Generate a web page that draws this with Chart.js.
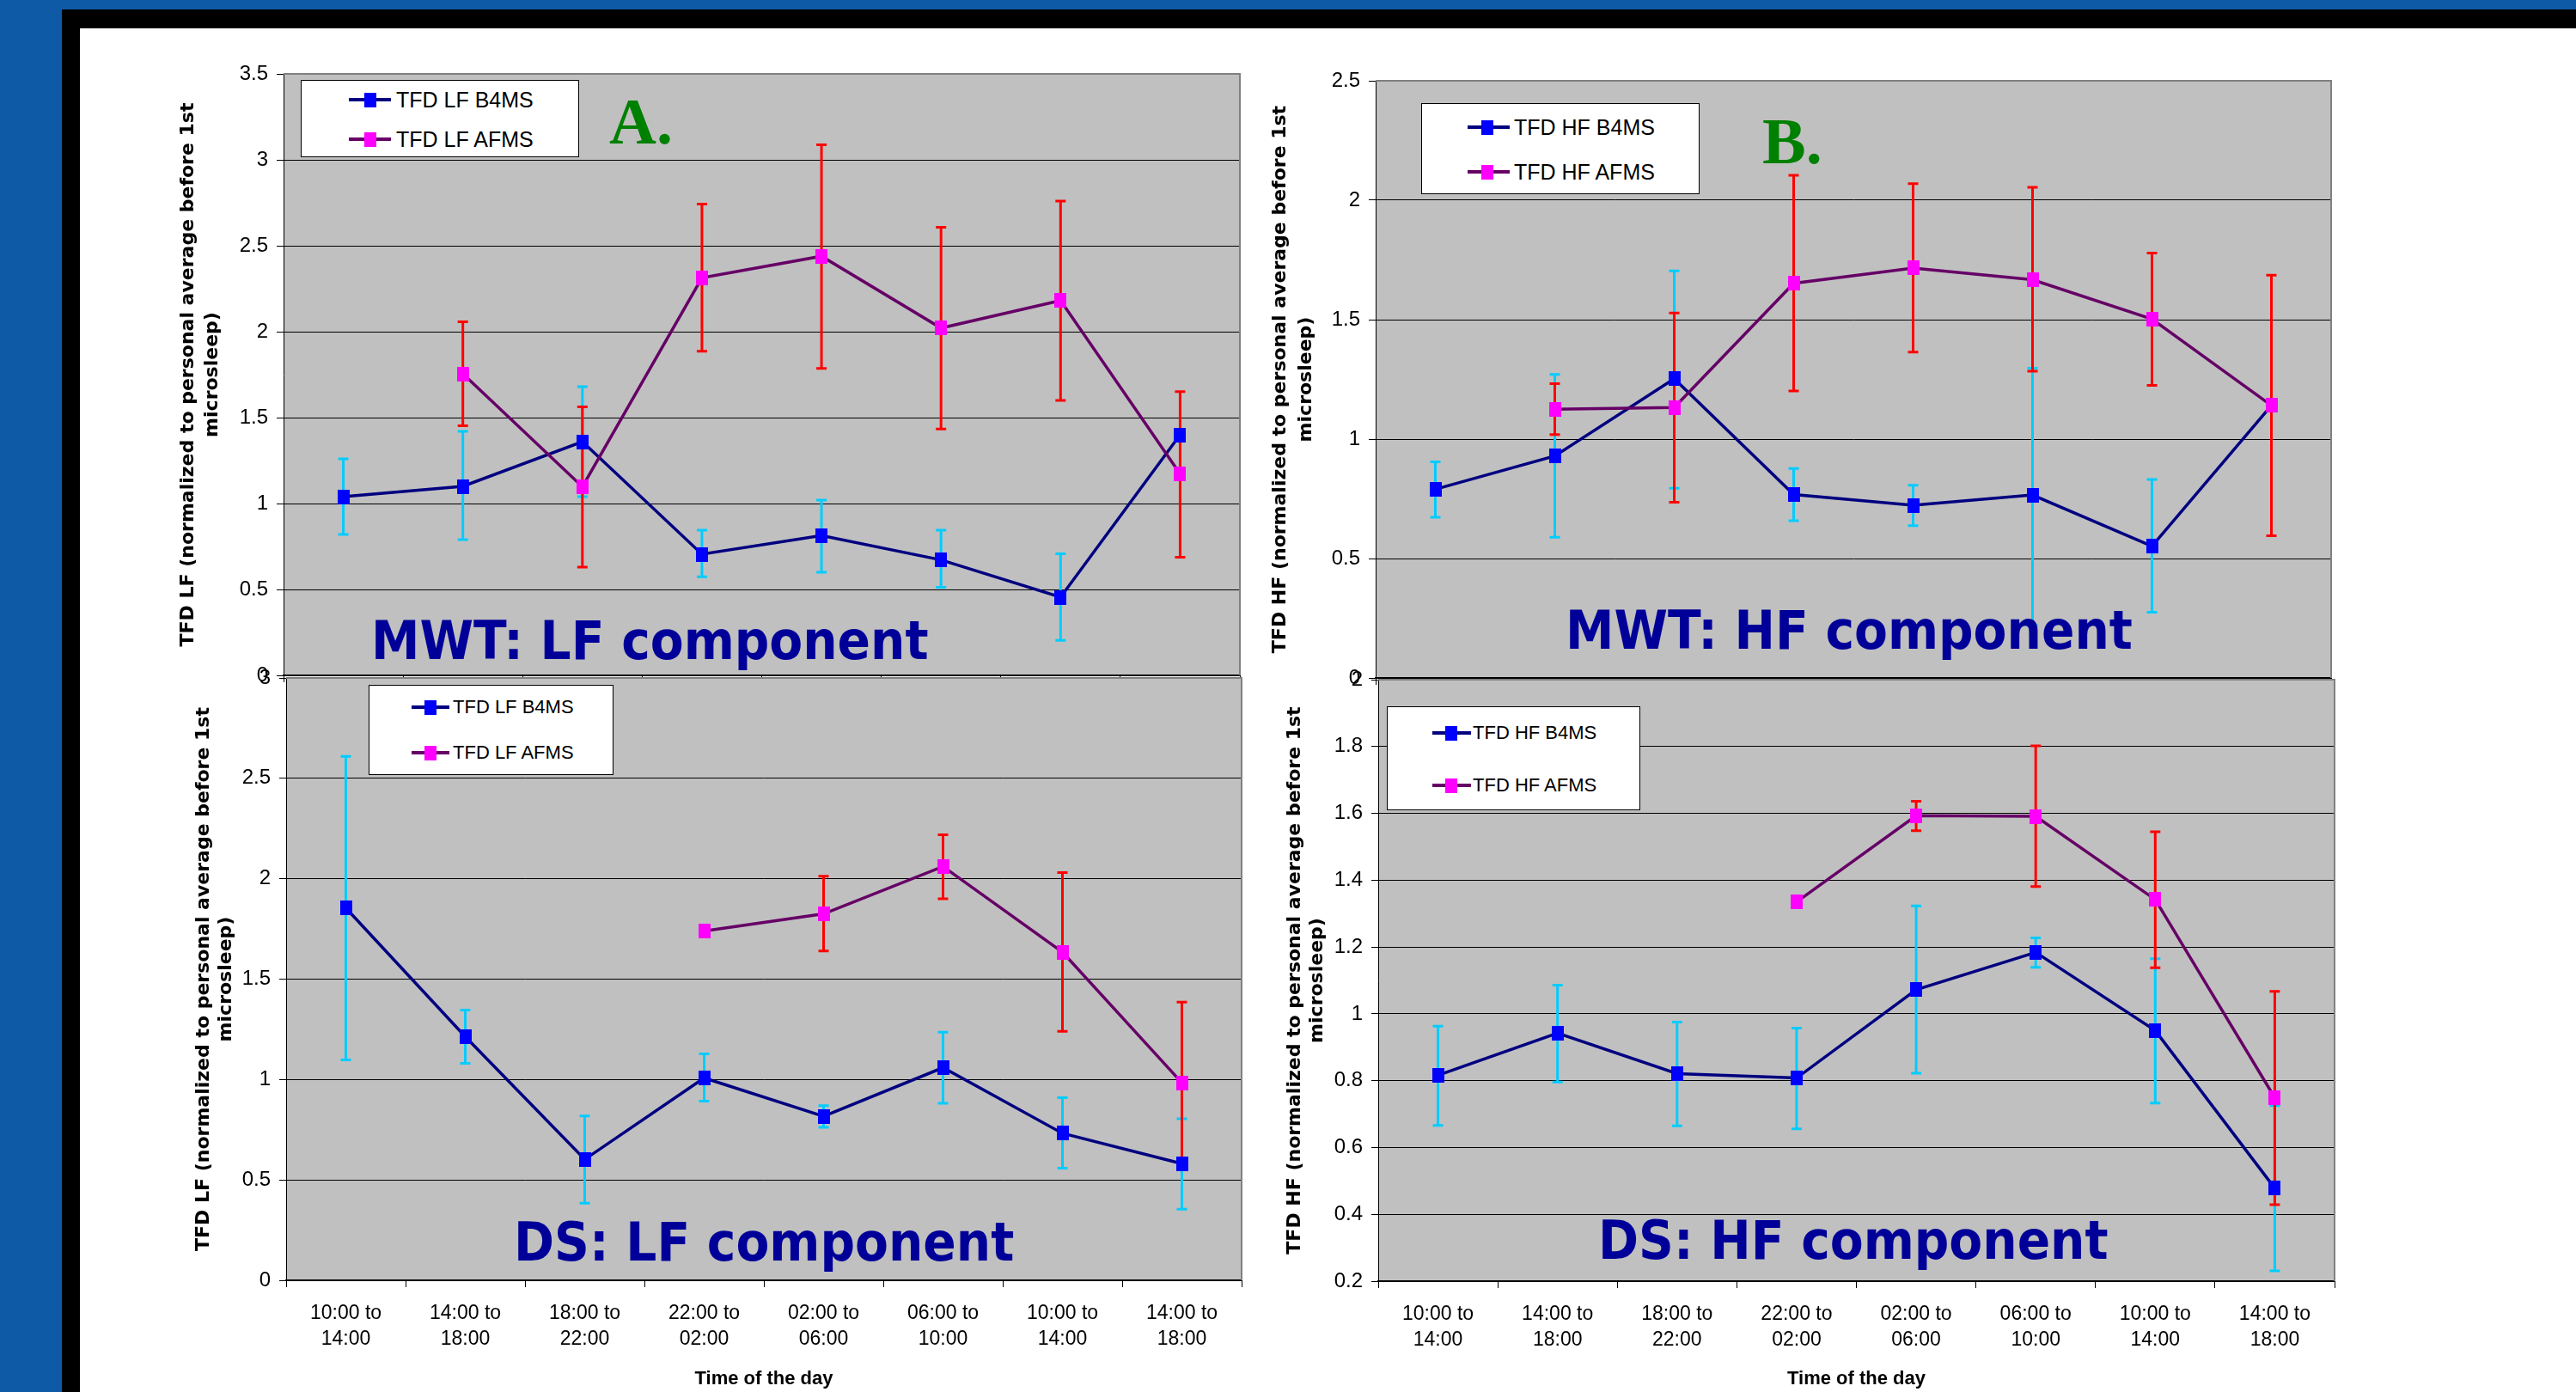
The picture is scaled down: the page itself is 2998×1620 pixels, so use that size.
<!DOCTYPE html>
<html>
<head>
<meta charset="utf-8">
<script src="https://cdn.jsdelivr.net/npm/chart.js@4.4.0/dist/chart.umd.min.js"></script>
<style>
  html, body { margin: 0; padding: 0; }
  body { width: 2998px; height: 1620px; position: relative; overflow: hidden; background: #fff;
         font-family: 'Liberation Sans', Arial, sans-serif; }
  .frame { position: absolute; }
  canvas { position: absolute; left: 0; top: 0; z-index: 1; }
  .legend { position: absolute; background: #fff; border: 1px solid #000; box-sizing: border-box; z-index: 4; }
  .legend div, .legend span { position: absolute; }
  .legend span { color: #000; white-space: nowrap; }
  .big { position: absolute; color: #000099; font-family: 'DejaVu Sans Condensed', 'DejaVu Sans', sans-serif;
         font-stretch: condensed; font-weight: bold; font-size: 63px;
         line-height: 63px; white-space: nowrap; z-index: 5; }
  .letter { position: absolute; color: #008000; font: bold 76px 'Liberation Serif', 'Times New Roman', serif;
            line-height: 76px; z-index: 5; }
</style>
</head>
<body>
<div class="frame" style="left:0;top:0;width:2998px;height:11px;background:#0F5AA6"></div>
<div class="frame" style="left:0;top:0;width:72px;height:1620px;background:#0F5AA6"></div>
<div class="frame" style="left:72px;top:11px;width:2926px;height:22px;background:#000"></div>
<div class="frame" style="left:72px;top:11px;width:21px;height:1609px;background:#000"></div>

<canvas id="chartA" width="2998" height="1620"></canvas>
<canvas id="chartB" width="2998" height="1620"></canvas>
<canvas id="chartC" width="2998" height="1620"></canvas>
<canvas id="chartD" width="2998" height="1620"></canvas>

<div class="big" style="left:432px;top:714px">MWT: LF component</div>
<div class="big" style="left:1822px;top:702px">MWT: HF component</div>
<div class="big" style="left:598px;top:1414px">DS: LF component</div>
<div class="big" style="left:1860px;top:1412px">DS: HF component</div>
<div class="letter" style="left:709px;top:103px">A.</div>
<div class="letter" style="left:2051px;top:126px">B.</div>

<script>
// --- Data ---
const timeSlots = [
    ['10:00 to', '14:00'], ['14:00 to', '18:00'], ['18:00 to', '22:00'], ['22:00 to', '02:00'],
    ['02:00 to', '06:00'], ['06:00 to', '10:00'], ['10:00 to', '14:00'], ['14:00 to', '18:00']
];
const lfNames = ['TFD LF B4MS', 'TFD LF AFMS'];
const hfNames = ['TFD HF B4MS', 'TFD HF AFMS'];

// A. MWT, LF
const mwtLfB4ms     = [1.04, 1.10, 1.36, 0.705, 0.814, 0.672, 0.455, 1.40];
const mwtLfB4msLow  = [0.82, 0.79, 1.04, 0.574, 0.60, 0.512, 0.204, null];
const mwtLfB4msHigh = [1.26, 1.42, 1.68, 0.845, 1.02, 0.845, 0.708, null];
const mwtLfAfms     = [null, 1.755, 1.098, 2.313, 2.439, 2.021, 2.181, 1.173];
const mwtLfAfmsLow  = [null, 1.452, 0.63, 1.886, 1.786, 1.434, 1.60, 0.687];
const mwtLfAfmsHigh = [null, 2.057, 1.563, 2.742, 3.088, 2.607, 2.760, 1.651];

// B. MWT, HF
const mwtHfB4ms     = [0.79, 0.929, 1.253, 0.768, 0.723, 0.766, 0.552, 1.141];
const mwtHfB4msLow  = [0.673, 0.589, 0.794, 0.658, 0.638, 0.22, 0.275, null];
const mwtHfB4msHigh = [0.905, 1.271, 1.704, 0.877, 0.807, 1.297, 0.831, null];
const mwtHfAfms     = [null, 1.125, 1.132, 1.652, 1.716, 1.667, 1.502, 1.141];
const mwtHfAfmsLow  = [null, 1.019, 0.736, 1.201, 1.364, 1.284, 1.225, 0.595];
const mwtHfAfmsHigh = [null, 1.232, 1.528, 2.104, 2.069, 2.054, 1.779, 1.686];

// C. DS, LF
const dsLfB4ms     = [1.854, 1.213, 0.602, 1.008, 0.817, 1.059, 0.732, 0.581];
const dsLfB4msLow  = [1.098, 1.081, 0.384, 0.892, 0.762, 0.882, 0.559, 0.354];
const dsLfB4msHigh = [2.61, 1.346, 0.819, 1.128, 0.870, 1.236, 0.909, 0.805];
const dsLfAfms     = [null, null, null, 1.740, 1.825, 2.061, 1.634, 0.984];
const dsLfAfmsLow  = [null, null, null, null, 1.640, 1.900, 1.240, 0.582];
const dsLfAfmsHigh = [null, null, null, null, 2.012, 2.219, 2.031, 1.386];

// D. DS, HF
const dsHfB4ms     = [0.816, 0.942, 0.821, 0.808, 1.072, 1.184, 0.950, 0.478];
const dsHfB4msLow  = [0.666, 0.796, 0.665, 0.656, 0.822, 1.139, 0.733, 0.231];
const dsHfB4msHigh = [0.963, 1.086, 0.975, 0.957, 1.323, 1.227, 1.165, 0.725];
const dsHfAfms     = [null, null, null, 1.335, 1.593, 1.591, 1.342, 0.749];
const dsHfAfmsLow  = [null, null, null, null, 1.548, 1.381, 1.138, 0.429];
const dsHfAfmsHigh = [null, null, null, null, 1.636, 1.802, 1.545, 1.067];

// --- Styles ---
const B4MS_LINE = '#000080', B4MS_MARK = '#0000FF', B4MS_BAR = '#00CCFF';
const AFMS_LINE = '#660066', AFMS_MARK = '#FF00FF', AFMS_BAR = '#FF0000';
const PAGE_W = 2998, PAGE_H = 1620;

function markerImage(color) {
    const c = document.createElement('canvas');
    c.width = 14; c.height = 17;
    const g = c.getContext('2d');
    g.fillStyle = color;
    g.fillRect(0, 0, 14, 17);
    return c;
}

// gray plot area, border and error bars, drawn under the lines
const plotDecor = {
    id: 'plotDecor',
    beforeDraw(chart) {
        const { ctx, chartArea: a } = chart;
        ctx.save();
        ctx.fillStyle = '#C0C0C0';
        ctx.fillRect(a.left, a.top, a.right - a.left, a.bottom - a.top);
        ctx.restore();
    },
    beforeDatasetsDraw(chart) {
        const { ctx, chartArea: a, scales: { x, y } } = chart;
        ctx.save();
        ctx.strokeStyle = '#808080';
        ctx.lineWidth = 2;
        ctx.beginPath();
        ctx.moveTo(a.left, a.top);
        ctx.lineTo(a.right, a.top);
        ctx.lineTo(a.right, a.bottom);
        ctx.stroke();
        chart.data.datasets.forEach(ds => {
            ctx.strokeStyle = ds.errColor;
            ctx.lineWidth = 3;
            ds.errLow.forEach((lo, i) => {
                const hi = ds.errHigh[i];
                if (lo == null || hi == null) return;
                const px = x.getPixelForValue(i);
                const yl = y.getPixelForValue(lo);
                const yh = y.getPixelForValue(hi);
                ctx.beginPath();
                ctx.moveTo(px, yl); ctx.lineTo(px, yh);
                ctx.moveTo(px - 6, yl); ctx.lineTo(px + 6, yl);
                ctx.moveTo(px - 6, yh); ctx.lineTo(px + 6, yh);
                ctx.stroke();
            });
        });
        ctx.restore();
    }
};

function series(label, data, low, high, line, mark, bar, order) {
    return {
        label, data, errLow: low, errHigh: high, errColor: bar, order,
        borderColor: line, borderWidth: 3.5, backgroundColor: mark,
        pointStyle: markerImage(mark), pointRadius: 8, tension: 0, spanGaps: false
    };
}

const panels = [
    { id: 'chartA', area: { left: 330, top: 86, right: 1443, bottom: 786 }, min: 0, max: 3.5, step: 0.5,
      yTitle: ['TFD LF (normalized to personal average before 1st', 'microsleep)'], titleLH: 28, yWidth: 125,
      showX: false, xHeight: 10,
      datasets: [
        series(lfNames[0], mwtLfB4ms, mwtLfB4msLow, mwtLfB4msHigh, B4MS_LINE, B4MS_MARK, B4MS_BAR, 2),
        series(lfNames[1], mwtLfAfms, mwtLfAfmsLow, mwtLfAfmsHigh, AFMS_LINE, AFMS_MARK, AFMS_BAR, 1)
      ] },
    { id: 'chartB', area: { left: 1601, top: 94, right: 2713, bottom: 789 }, min: 0, max: 2.5, step: 0.5,
      yTitle: ['TFD HF (normalized to personal average before 1st', 'microsleep)'], titleLH: 30, yWidth: 126,
      showX: false, xHeight: 10,
      datasets: [
        series(hfNames[0], mwtHfB4ms, mwtHfB4msLow, mwtHfB4msHigh, B4MS_LINE, B4MS_MARK, B4MS_BAR, 2),
        series(hfNames[1], mwtHfAfms, mwtHfAfmsLow, mwtHfAfmsHigh, AFMS_LINE, AFMS_MARK, AFMS_BAR, 1)
      ] },
    { id: 'chartC', area: { left: 333, top: 789, right: 1445, bottom: 1490 }, min: 0, max: 3, step: 0.5,
      yTitle: ['TFD LF (normalized to personal average before 1st', 'microsleep)'], titleLH: 26, yWidth: 109,
      showX: true, xHeight: 127,
      datasets: [
        series(lfNames[0], dsLfB4ms, dsLfB4msLow, dsLfB4msHigh, B4MS_LINE, B4MS_MARK, B4MS_BAR, 2),
        series(lfNames[1], dsLfAfms, dsLfAfmsLow, dsLfAfmsHigh, AFMS_LINE, AFMS_MARK, AFMS_BAR, 1)
      ] },
    { id: 'chartD', area: { left: 1604, top: 791, right: 2717, bottom: 1491 }, min: 0.2, max: 2, step: 0.2,
      yTitle: ['TFD HF (normalized to personal average before 1st', 'microsleep)'], titleLH: 26, yWidth: 110,
      showX: true, xHeight: 126,
      datasets: [
        series(hfNames[0], dsHfB4ms, dsHfB4msLow, dsHfB4msHigh, B4MS_LINE, B4MS_MARK, B4MS_BAR, 2),
        series(hfNames[1], dsHfAfms, dsHfAfmsLow, dsHfAfmsHigh, AFMS_LINE, AFMS_MARK, AFMS_BAR, 1)
      ] }
];

const FONT = "'Liberation Sans', Arial, sans-serif";

function buildPanel(p) {
    const chart = new Chart(document.getElementById(p.id), {
        type: 'line',
        data: { labels: timeSlots, datasets: p.datasets },
        plugins: [plotDecor],
        options: {
            responsive: false,
            animation: false,
            devicePixelRatio: 1,
            layout: { padding: {
                left: p.area.left - p.yWidth, top: p.area.top,
                right: PAGE_W - p.area.right, bottom: PAGE_H - p.area.bottom - p.xHeight } },
            plugins: { legend: { display: false }, tooltip: { enabled: false } },
            scales: {
                x: {
                    type: 'category', offset: true,
                    grid: { offset: true, drawOnChartArea: false, drawTicks: true, tickLength: 8, tickColor: '#000' },
                    border: { display: true, color: '#000', width: 2 },
                    ticks: { display: p.showX, color: '#000', padding: 16, maxRotation: 0, autoSkip: false,
                             font: { family: FONT, size: 23, lineHeight: '30px' } },
                    title: { display: p.showX, text: 'Time of the day', color: '#000', padding: 0,
                             font: { family: FONT, size: 22, weight: 'bold', lineHeight: '24px' } },
                    afterFit: (s) => { s.height = p.xHeight; }
                },
                y: {
                    min: p.min, max: p.max,
                    ticks: { stepSize: p.step, color: '#000', padding: 10, font: { family: FONT, size: 24 },
                             callback: (v) => String(Number(v.toFixed(2))) },
                    grid: { color: '#000', lineWidth: 1, tickLength: 8, tickColor: '#000' },
                    border: { color: '#000', width: 1 },
                    title: { display: true, text: p.yTitle, color: '#000', padding: 0,
                             font: { family: "'DejaVu Sans', Verdana, sans-serif", size: 22, weight: 'bold',
                                     lineHeight: p.titleLH + 'px' } },
                    afterFit: (s) => { s.width = p.yWidth; }
                }
            }
        }
    });
    // nudge the padding until the plot area sits where the reference has it
    for (let k = 0; k < 3; k++) {
        const ca = chart.chartArea;
        const pad = chart.options.layout.padding;
        pad.left += p.area.left - ca.left;
        pad.top += p.area.top - ca.top;
        pad.right += ca.right - p.area.right;
        pad.bottom += ca.bottom - p.area.bottom;
        chart.update('none');
    }
    return chart;
}

panels.forEach(buildPanel);

// --- Legends ---
const legends = [
    { names: lfNames, box: [350, 93, 324, 90], rows: [116, 162], line: [405, 454], mark: 430, text: 460, size: 25 },
    { names: hfNames, box: [1654, 120, 324, 106], rows: [148, 200], line: [1707, 1756], mark: 1730, text: 1761, size: 25 },
    { names: lfNames, box: [429, 797, 285, 105], rows: [823, 876], line: [478, 522], mark: 500, text: 526, size: 22 },
    { names: hfNames, box: [1614, 822, 295, 121], rows: [853, 914], line: [1666, 1711], mark: 1688, text: 1713, size: 22 }
];
const legendColors = [[B4MS_LINE, B4MS_MARK], [AFMS_LINE, AFMS_MARK]];

legends.forEach(l => {
    const [bx, by, bw, bh] = l.box;
    const box = document.createElement('div');
    box.className = 'legend';
    Object.assign(box.style, { left: bx + 'px', top: by + 'px', width: bw + 'px', height: bh + 'px' });
    l.names.forEach((name, i) => {
        const ry = l.rows[i] - by - 1;
        const line = document.createElement('div');
        Object.assign(line.style, { left: (l.line[0] - bx) + 'px', top: (ry - 2) + 'px',
            width: (l.line[1] - l.line[0]) + 'px', height: '4px', background: legendColors[i][0] });
        const mark = document.createElement('div');
        Object.assign(mark.style, { left: (l.mark - bx - 7) + 'px', top: (ry - 8) + 'px',
            width: '14px', height: '17px', background: legendColors[i][1] });
        const text = document.createElement('span');
        text.textContent = name;
        Object.assign(text.style, { left: (l.text - bx) + 'px', top: (ry - l.size * 0.49) + 'px',
            fontSize: l.size + 'px', lineHeight: l.size + 'px' });
        box.append(line, mark, text);
    });
    document.body.appendChild(box);
});
</script>
</body>
</html>
